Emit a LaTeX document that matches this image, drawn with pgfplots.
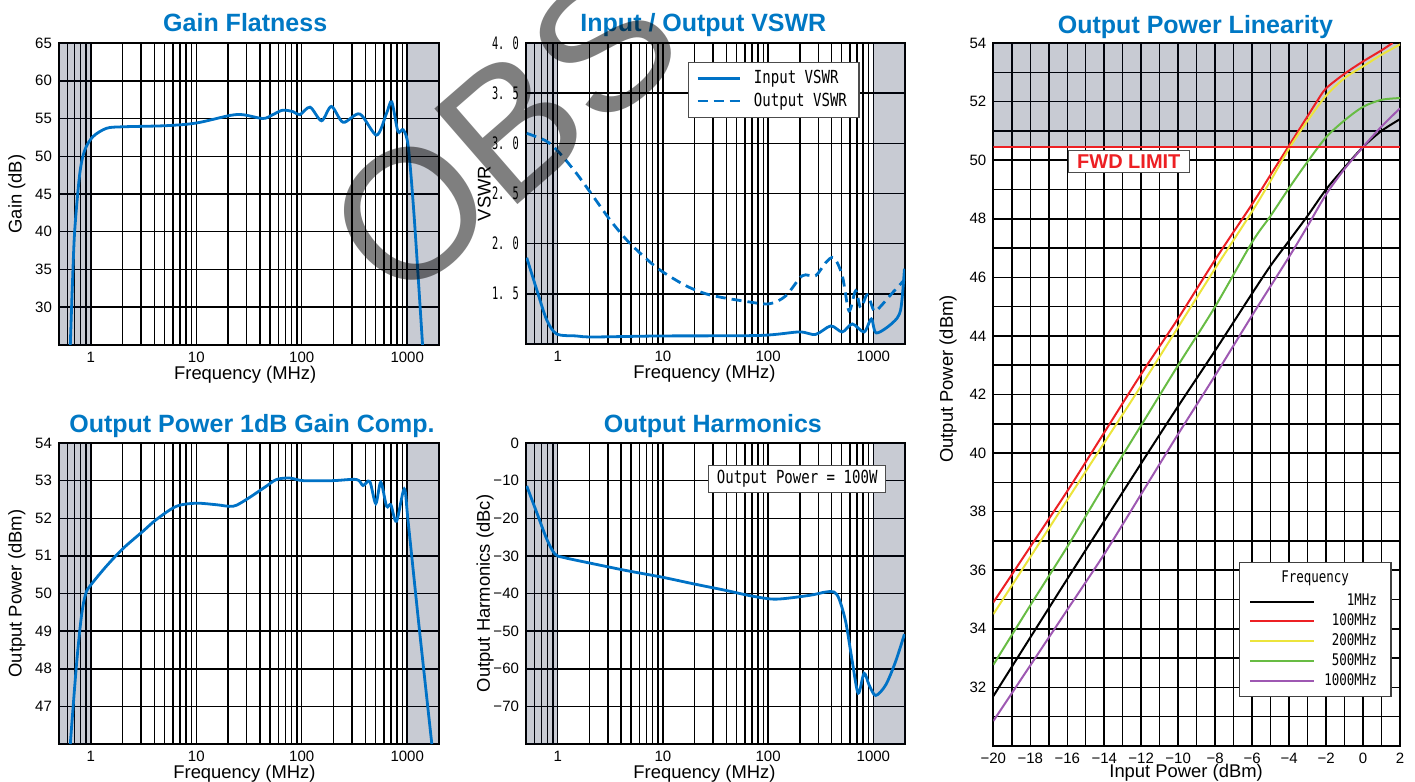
\documentclass[border=0pt]{standalone}
\usepackage{fontspec}
\setmainfont{Liberation Sans}
\newfontfamily\jmono{DejaVu Sans Mono}[FakeStretch=0.78]
\newfontfamily\jnarrow{DejaVu Sans Mono}[FakeStretch=0.6]
\usepackage{pgfplots}
\pgfplotsset{compat=1.18}

\definecolor{ttl}{RGB}{0,120,196}
\definecolor{crv}{RGB}{0,114,198}
\definecolor{bandc}{RGB}{0,14,51}
\definecolor{fwd}{RGB}{237,32,36}
\definecolor{c200}{RGB}{236,228,60}
\definecolor{c500}{RGB}{104,188,68}
\definecolor{c1000}{RGB}{158,88,178}

\begin{document}
\begin{tikzpicture}
\path[use as bounding box] (0,0) rectangle (707.5pt,391pt);

% Gain Flatness
\begin{axis}[scale only axis, anchor=south west, at={(29.5pt,218.5pt)},
  width=190pt, height=151pt,
  xmode=log, xmin=0.5, xmax=2000,
  xtick={1,10,100,1000}, xticklabels={1,10,100,1000},
  minor xtick={0.6,0.7,0.8,0.9,2,3,4,5,6,7,8,9,20,30,40,50,60,70,80,90,200,300,400,500,600,700,800,900},
  ymin=25, ymax=65, ytick={30,35,40,45,50,55,60,65},
  axis line style={black, line width=0.9pt}, grid=both,
  major grid style={black, line width=0.75pt}, minor grid style={black, line width=0.75pt},
  tick style={draw=none},
  tick label style={font=\fontsize{7.5}{9}\selectfont},
  /pgf/number format/assume math mode=true,
  title={Gain Flatness}, xlabel={Frequency (MHz)}, ylabel={Gain (dB)},
  title style={font=\bfseries\fontsize{12.5}{15}\selectfont, text=ttl, at={(axis description cs:0.49,1.04)}, anchor=base, yshift=-6.5pt},
  xlabel style={font=\fontsize{9.2}{11}\selectfont, at={(axis description cs:0.49,-0.113)}, anchor=base},
  ylabel style={font=\fontsize{9.2}{11}\selectfont, at={(axis description cs:-0.111,0.5)}, anchor=center}]
\addplot[fill=bandc, fill opacity=0.216, draw=none, forget plot] coordinates {(0.5,25) (1,25) (1,65) (0.5,65)};
\addplot[fill=bandc, fill opacity=0.216, draw=none, forget plot] coordinates {(1000,25) (2000,25) (2000,65) (1000,65)};
\addplot[crv, line width=1.4pt, smooth, tension=0.5] coordinates {
(0.64,25) (0.67,33) (0.705,40.2) (0.787,47.7) (0.877,50.8) (1.05,52.6)
(1.41,53.7) (2.0,53.9) (5.2,54.05) (10,54.4) (20.8,55.4) (27.8,55.5)
(43,55.0) (53,55.5) (66,56.1) (83,55.9) (96,55.5) (120,56.5) (154,54.7)
(191,56.6) (247,54.5) (355,55.6) (512,52.8) (637,55.7) (713,57.2)
(816,53.3) (916,53.5) (1022,51.3) (1163,42.0) (1397,25)};
\end{axis}

% Input / Output VSWR
\begin{axis}[scale only axis, anchor=south west, at={(263pt,219pt)},
  width=189.5pt, height=150.5pt,
  xmode=log, xmin=0.5, xmax=2000,
  xtick={1,10,100,1000}, xticklabels={1,10,100,1000},
  minor xtick={0.6,0.7,0.8,0.9,2,3,4,5,6,7,8,9,20,30,40,50,60,70,80,90,200,300,400,500,600,700,800,900},
  ymin=1, ymax=4, ytick={1.5,2,2.5,3,3.5,4},
  yticklabels={1. 5,2. 0,2. 5,3. 0,3. 5,4. 0},
  axis line style={black, line width=0.9pt}, grid=both,
  major grid style={black, line width=0.75pt}, minor grid style={black, line width=0.75pt},
  tick style={draw=none},
  xticklabel style={font=\fontsize{7.5}{9}\selectfont},
  yticklabel style={font=\jnarrow\fontsize{8.6}{10}\selectfont},
  title={Input / Output VSWR}, xlabel={Frequency (MHz)}, ylabel={VSWR},
  title style={font=\bfseries\fontsize{12.5}{15}\selectfont, text=ttl, at={(axis description cs:0.468,1.04)}, anchor=base, yshift=-6.5pt},
  xlabel style={font=\fontsize{9.2}{11}\selectfont, at={(axis description cs:0.471,-0.116)}, anchor=base},
  ylabel style={font=\fontsize{9.2}{11}\selectfont, at={(axis description cs:-0.11,0.5)}, anchor=center},
  legend style={at={(rel axis cs:0.88,0.937)}, anchor=north east,
    draw=black!70, line width=0.6pt, fill=white,
    font=\jmono\fontsize{9}{10}\selectfont, row sep=-1pt,
    inner xsep=4pt, inner ysep=2pt},
  legend cell align=left,
  legend image code/.code={\draw[#1] (0pt,0pt) -- (21pt,0pt); \path (25.5pt,0pt);}]
\addplot[fill=bandc, fill opacity=0.216, draw=none, forget plot] coordinates {(0.5,1) (1,1) (1,4) (0.5,4)};
\addplot[fill=bandc, fill opacity=0.216, draw=none, forget plot] coordinates {(1000,1) (2000,1) (2000,4) (1000,4)};
\addplot[crv, line width=1.4pt, smooth, tension=0.5] coordinates {
(0.508,1.86) (0.633,1.54) (0.787,1.24) (0.98,1.10) (1.51,1.08) (2.18,1.07)
(9.3,1.08) (82,1.085) (197,1.12) (282,1.095) (394,1.18) (507,1.12)
(631,1.20) (817,1.12) (958,1.25) (1068,1.11) (1520,1.21) (1816,1.34) (1975,1.75)};
\addlegendentry{Input VSWR}
\addplot[crv, line width=1.4pt, smooth, tension=0.5, dash pattern=on 5pt off 3pt] coordinates {
(0.508,3.10) (0.787,3.02) (1.05,2.90) (1.51,2.70) (2.18,2.47) (3.13,2.24)
(4.5,2.04) (6.46,1.88) (9.3,1.74) (16.6,1.58) (27.7,1.49) (57,1.43)
(102,1.40) (147,1.48) (211,1.68) (282,1.68) (352,1.81) (422,1.86)
(507,1.68) (587,1.33) (679,1.53) (758,1.36) (876,1.49) (1014,1.33)
(1136,1.36) (1520,1.51) (1975,1.64)};
\addlegendentry{Output VSWR}
\end{axis}

% Output Power 1dB Gain Comp.
\begin{axis}[scale only axis, anchor=south west, at={(29.5pt,19pt)},
  width=190pt, height=150.5pt,
  xmode=log, xmin=0.5, xmax=2000,
  xtick={1,10,100,1000}, xticklabels={1,10,100,1000},
  minor xtick={0.6,0.7,0.8,0.9,2,3,4,5,6,7,8,9,20,30,40,50,60,70,80,90,200,300,400,500,600,700,800,900},
  ymin=46, ymax=54, ytick={47,48,49,50,51,52,53,54},
  axis line style={black, line width=0.9pt}, grid=both,
  major grid style={black, line width=0.75pt}, minor grid style={black, line width=0.75pt},
  tick style={draw=none},
  tick label style={font=\fontsize{7.5}{9}\selectfont},
  /pgf/number format/assume math mode=true,
  title={Output Power 1dB Gain Comp.}, xlabel={Frequency (MHz)}, ylabel={Output Power (dBm)},
  title style={font=\bfseries\fontsize{12.5}{15}\selectfont, text=ttl, at={(axis description cs:0.508,1.037)}, anchor=base, yshift=-6.5pt},
  xlabel style={font=\fontsize{9.2}{11}\selectfont, at={(axis description cs:0.488,-0.116)}, anchor=base},
  ylabel style={font=\fontsize{9.2}{11}\selectfont, at={(axis description cs:-0.111,0.5)}, anchor=center}]
\addplot[fill=bandc, fill opacity=0.216, draw=none, forget plot] coordinates {(0.5,46) (1,46) (1,54) (0.5,54)};
\addplot[fill=bandc, fill opacity=0.216, draw=none, forget plot] coordinates {(1000,46) (2000,46) (2000,54) (1000,54)};
\addplot[crv, line width=1.4pt, smooth, tension=0.5] coordinates {
(0.64,46.0) (0.731,48.08) (0.816,49.4) (0.897,50.0) (1.01,50.24) (1.41,50.73)
(2.03,51.2) (3.14,51.66) (4.2,51.97) (6.5,52.32) (10,52.4) (15.5,52.36)
(22.4,52.32) (29.9,52.5) (46,52.85) (57.6,53.03) (76.6,53.07) (103,53.0)
(197,53.0) (331,53.03) (381,52.87) (441,52.98) (503,52.39) (561,52.96)
(637,52.32) (699,52.36) (791,51.92) (937,52.78) (1022,51.88) (1303,49.05) (1710,46.0)};
\end{axis}

% Output Harmonics
\begin{axis}[scale only axis, anchor=south west, at={(263pt,19pt)},
  width=189.5pt, height=150.5pt,
  xmode=log, xmin=0.5, xmax=2000,
  xtick={1,10,100,1000}, xticklabels={1,10,100,1000},
  minor xtick={0.6,0.7,0.8,0.9,2,3,4,5,6,7,8,9,20,30,40,50,60,70,80,90,200,300,400,500,600,700,800,900},
  ymin=-80, ymax=0, ytick={-70,-60,-50,-40,-30,-20,-10,0},
  yticklabels={−70,−60,−50,−40,−30,−20,−10,0},
  axis line style={black, line width=0.9pt}, grid=both,
  major grid style={black, line width=0.75pt}, minor grid style={black, line width=0.75pt},
  tick style={draw=none},
  tick label style={font=\fontsize{7.5}{9}\selectfont},
  title={Output Harmonics}, xlabel={Frequency (MHz)}, ylabel={Output Harmonics (dBc)},
  title style={font=\bfseries\fontsize{12.5}{15}\selectfont, text=ttl, at={(axis description cs:0.493,1.037)}, anchor=base, yshift=-6.5pt},
  xlabel style={font=\fontsize{9.2}{11}\selectfont, at={(axis description cs:0.471,-0.116)}, anchor=base},
  ylabel style={font=\fontsize{9.2}{11}\selectfont, at={(axis description cs:-0.108,0.5)}, anchor=center}]
\addplot[fill=bandc, fill opacity=0.216, draw=none, forget plot] coordinates {(0.5,-80) (1,-80) (1,0) (0.5,0)};
\addplot[fill=bandc, fill opacity=0.216, draw=none, forget plot] coordinates {(1000,-80) (2000,-80) (2000,0) (1000,0)};
\addplot[crv, line width=1.4pt, smooth, tension=0.5] coordinates {
(0.508,-11.4) (0.633,-18.5) (0.787,-25.5) (0.94,-29.5) (1.13,-30.4)
(2.18,-32.1) (4.5,-33.9) (10,-35.7) (19.3,-37.4) (40,-39.2) (71,-40.7)
(119,-41.5) (246,-40.5) (352,-39.6) (422,-39.6) (472,-41.4) (546,-47.5)
(631,-58.1) (718,-66.5) (816,-61.2) (911,-64.3) (1052,-67.1) (1311,-64.3)
(1626,-58.1) (1975,-50.8)};
\node[draw=black!70, line width=0.6pt, fill=white, anchor=north east,
  font=\jmono\fontsize{9}{10}\selectfont, inner xsep=4pt, inner ysep=2.5pt]
  at (rel axis cs:0.95,0.927) {Output Power = 100W};
\end{axis}

% Output Power Linearity
\begin{axis}[scale only axis, anchor=south west, at={(496.65pt,18pt)},
  width=203.35pt, height=351.5pt,
  xmin=-20, xmax=2, ymin=30, ymax=54,
  xtick={-20,-18,-16,-14,-12,-10,-8,-6,-4,-2,0,2},
  xticklabels={−20,−18,−16,−14,−12,−10,−8,−6,−4,−2,0,2},
  minor xtick={-19,-17,-15,-13,-11,-9,-7,-5,-3,-1,1},
  ytick={32,34,36,38,40,42,44,46,48,50,52,54},
  minor ytick={31,33,35,37,39,41,43,45,47,49,51,53},
  axis line style={black, line width=0.9pt}, grid=both,
  major grid style={black, line width=0.75pt}, minor grid style={black, line width=0.75pt},
  tick style={draw=none},
  tick label style={font=\fontsize{7.5}{9}\selectfont},
  /pgf/number format/assume math mode=true,
  title={Output Power Linearity},
  xlabel={Input Power (dBm)}, ylabel={Output Power (dBm)},
  title style={font=\bfseries\fontsize{12.5}{15}\selectfont, text=ttl, at={(axis description cs:0.497,1.0156)}, anchor=base, yshift=-6.5pt},
  xlabel style={font=\fontsize{9.2}{11}\selectfont, at={(axis description cs:0.474,-0.0455)}, anchor=base},
  ylabel style={font=\fontsize{9.2}{11}\selectfont, at={(axis description cs:-0.111,0.522)}, anchor=center},
  legend style={at={(axis cs:1.54,36.28)}, anchor=north east,
    draw=black!75, line width=0.6pt, fill=white,
    font=\jmono\fontsize{8}{9}\selectfont, row sep=-1.5pt,
    inner xsep=5pt, inner ysep=2pt},
  legend cell align=right,
  legend image code/.code={\draw[#1] (0pt,0pt) -- (32pt,0pt); \path (34.5pt,0pt);}]
\addplot[fill=bandc, fill opacity=0.216, draw=none, forget plot] coordinates {(-20,50.45) (2,50.45) (2,54) (-20,54)};
\addlegendimage{empty legend}
\addlegendentry{\makebox[0pt][r]{\raisebox{2pt}{Frequency}\hspace*{14pt}}}
\addplot[black, line width=1pt, smooth] coordinates {
(-20,31.7) (-16,35.7) (-12,39.65) (-10,41.6) (-8,43.5) (-6,45.45) (-5,46.4)
(-4,47.25) (-3,48.1) (-2,49.0) (-1,49.75) (0,50.45) (1,51.0) (2,51.4)};
\addlegendentry{1MHz}
\addplot[fwd, line width=1pt, smooth] coordinates {
(-20,34.9) (-18,36.8) (-16,38.7) (-14,40.7) (-12,42.7) (-10,44.6) (-8,46.6)
(-6,48.5) (-5,49.5) (-4,50.5) (-3,51.5) (-2.5,52.0) (-2,52.45) (-1,52.95)
(0,53.37) (1,53.75) (1.6,54.0)};
\addlegendentry{100MHz}
\addplot[c200, line width=1pt, smooth] coordinates {
(-20,34.5) (-18,36.45) (-16,38.4) (-14,40.35) (-12,42.3) (-10,44.3) (-8,46.3)
(-6,48.25) (-5,49.3) (-4,50.4) (-3,51.35) (-2,52.2) (-1,52.8) (0,53.2)
(1,53.6) (2,53.95)};
\addlegendentry{200MHz}
\addplot[c500, line width=1pt, smooth] coordinates {
(-20,32.77) (-18,34.8) (-16,36.8) (-14,38.9) (-12,40.95) (-10,43.0) (-8,45.0)
(-6,47.2) (-5,48.1) (-4,49.05) (-3,49.95) (-2,50.78) (-1,51.36) (0,51.82)
(1,52.06) (2,52.12)};
\addlegendentry{500MHz}
\addplot[c1000, line width=1pt, smooth] coordinates {
(-20,30.85) (-18,32.75) (-16,34.65) (-14,36.55) (-12,38.6) (-10,40.65)
(-8,42.65) (-6,44.7) (-4,46.7) (-3,47.75) (-2,48.83) (-1,49.7) (0,50.45)
(1,51.15) (2,51.77)};
\addlegendentry{1000MHz}
\addplot[fwd, line width=1.2pt, forget plot] coordinates {(-20,50.45) (2,50.45)};
\node[draw=black!70, line width=0.5pt, fill=white, text=fwd,
  font=\bfseries\fontsize{10}{12}\selectfont, inner xsep=4.5pt, inner ysep=2pt]
  at (axis cs:-12.67,49.95) {FWD LIMIT};
\end{axis}

% watermark
\node[rotate=41, text=black, text opacity=0.5,
  font=\fontsize{92}{92}\selectfont, inner sep=0pt]
  at (252pt,324.5pt) {OBS};
\end{tikzpicture}
\end{document}
